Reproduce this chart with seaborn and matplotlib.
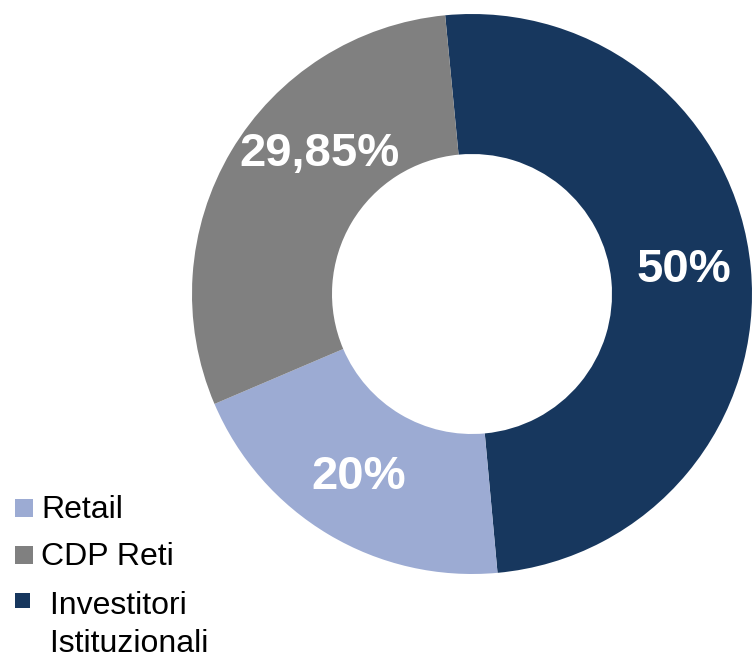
import numpy as np
import matplotlib
matplotlib.use("Agg")
import matplotlib.pyplot as plt
import matplotlib.patches as mpatches
import seaborn as sns

# Data (drawing order: clockwise from top)
categories = ["Investitori Istituzionali", "Retail", "CDP Reti"]
values = [50, 20, 29.85]
pct_labels = ["50%", "20%", "29,85%"]
colors = ["#17375E", "#9CABD3", "#808080"]

# Legend order and labels
legend_order = ["Retail", "CDP Reti", "Investitori Istituzionali"]
legend_labels = ["Retail", "CDP Reti", " Investitori\n Istituzionali"]

sns.set_theme(style="white")
plt.rcParams["font.family"] = ["Liberation Sans", "DejaVu Sans"]

W, H = 752, 660
fig = plt.figure(figsize=(W / 100, H / 100), dpi=100)
fig.patch.set_facecolor("white")

cx, cy, r = 472, 294, 280
ax = fig.add_axes([(cx - r) / W, (H - cy - r) / H, 2 * r / W, 2 * r / H])
wedges, texts = ax.pie(
    values,
    colors=colors,
    startangle=95.5,
    counterclock=False,
    labels=pct_labels,
    labeldistance=0.76,
    wedgeprops=dict(width=0.5, edgecolor="none", linewidth=0),
    textprops=dict(color="white", fontsize=34, fontweight="bold"),
)
# label placement tweaks (angle nudge in degrees, radial distance)
nudges = [1, -1, -12]
dists = [0.76, 0.77, 0.74]
for t, w, dn, d in zip(texts, wedges, nudges, dists):
    t.set_ha("center")
    t.set_va("center")
    mid = np.deg2rad((w.theta1 + w.theta2) / 2 + dn)
    t.set_position((d * np.cos(mid), d * np.sin(mid)))
for w in wedges:
    w.set_clip_on(False)
ax.set_xlim(-1, 1)
ax.set_ylim(-1, 1)
ax.set_aspect("equal")
ax.axis("off")

# Manual legend (square + label), square aligned with first text line
color_of = dict(zip(categories, colors))
sq_tops = [499, 546, 593]
sq_sizes = [18, 18, 15]
baselines = [518, 565, 614]
second_line_gap = 38
text_x = [41, 41, 41]
for name, lab, top, sz, base, tx in zip(legend_order, legend_labels, sq_tops, sq_sizes, baselines, text_x):
    rect = mpatches.Rectangle(
        (15 / W, (H - top - sz) / H), sz / W, sz / H,
        transform=fig.transFigure, facecolor=color_of[name], edgecolor="none",
    )
    fig.add_artist(rect)
    lines = lab.split("\n")
    fig.text(tx / W, (H - base) / H, lines[0], fontsize=23,
             color="black", ha="left", va="baseline")
    if len(lines) > 1:
        fig.text(tx / W, (H - base - second_line_gap) / H, lines[1], fontsize=23,
                 color="black", ha="left", va="baseline")

fig.savefig("out.png", dpi=100)
